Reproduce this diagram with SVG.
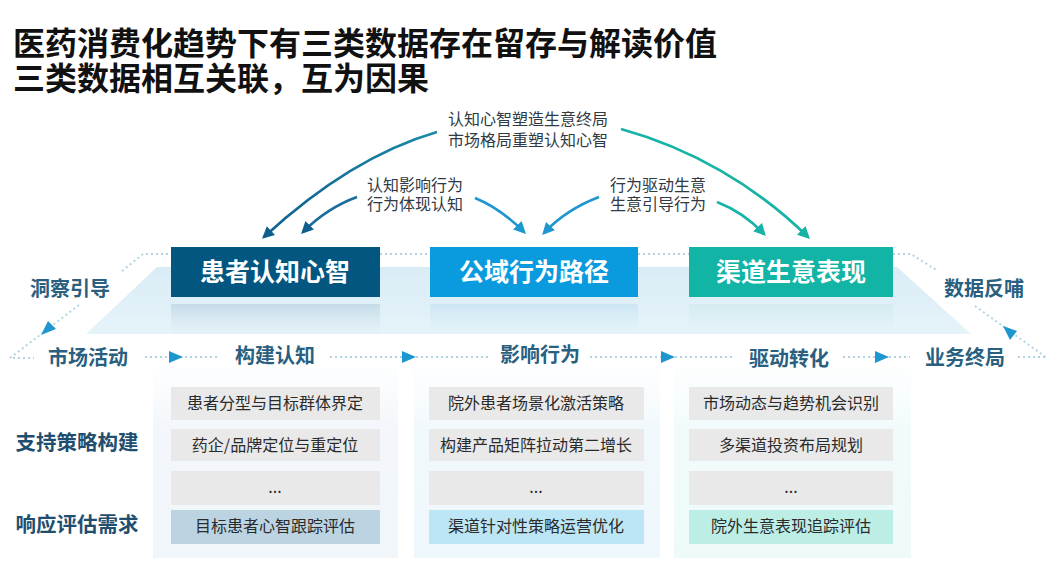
<svg xmlns="http://www.w3.org/2000/svg" width="1051" height="586" viewBox="0 0 1051 586">
<style>
text{font-family:"Noto Sans CJK SC","Liberation Sans",sans-serif;text-anchor:middle}
.title{font-size:32px;font-weight:700;fill:#111;text-anchor:start}
.note{font-size:16px;fill:#2f3a45}
.box{font-size:25px;font-weight:700;fill:#fff}
.step{font-size:20px;font-weight:700;fill:#2a5f80}
.side{font-size:20.5px;font-weight:700;fill:#1f4e6e}
.row{font-size:16px;fill:#2b2b2b}
.g{fill:#e9e9e9}
.dot{fill:none;stroke:#b3d3e2;stroke-width:2;stroke-dasharray:2 3}
.tri{fill:#1e96cf}
</style>
<defs>
<linearGradient id="plat" x1="0" y1="0" x2="0" y2="1"><stop offset="0" stop-color="#d9ecf6"/><stop offset="1" stop-color="#e6f3f9"/></linearGradient>
<linearGradient id="p1" x1="0" y1="0" x2="0" y2="1"><stop offset="0" stop-color="#f8fbfd" stop-opacity=".3"/><stop offset=".3" stop-color="#f3f7fb"/><stop offset="1" stop-color="#f1f6fb"/></linearGradient>
<linearGradient id="p2" x1="0" y1="0" x2="0" y2="1"><stop offset="0" stop-color="#f8fcfe" stop-opacity=".3"/><stop offset=".3" stop-color="#f2f9fd"/><stop offset="1" stop-color="#eef7fc"/></linearGradient>
<linearGradient id="p3" x1="0" y1="0" x2="0" y2="1"><stop offset="0" stop-color="#f8fdfd" stop-opacity=".3"/><stop offset=".3" stop-color="#f2fbfb"/><stop offset="1" stop-color="#eefafa"/></linearGradient>
<linearGradient id="r1" x1="0" y1="0" x2="0" y2="1"><stop offset="0" stop-color="#b9d2e0" stop-opacity=".7"/><stop offset="1" stop-color="#d8e9f2" stop-opacity=".1"/></linearGradient>
<linearGradient id="r2" x1="0" y1="0" x2="0" y2="1"><stop offset="0" stop-color="#bfe0f1" stop-opacity=".6"/><stop offset="1" stop-color="#d9eef8" stop-opacity=".1"/></linearGradient>
<linearGradient id="r3" x1="0" y1="0" x2="0" y2="1"><stop offset="0" stop-color="#cbe8e9" stop-opacity=".6"/><stop offset="1" stop-color="#def1f3" stop-opacity=".1"/></linearGradient>
<linearGradient id="la" gradientUnits="userSpaceOnUse" x1="437" y1="132" x2="264" y2="236"><stop offset="0" stop-color="#1b8aa8"/><stop offset="1" stop-color="#0f5f8e"/></linearGradient>
<marker id="m1" markerWidth="5" markerHeight="5" refX="3.5" refY="2.25" orient="auto" markerUnits="strokeWidth"><path d="M0 0L4.5 2.25L0 4.5z" fill="#0f5f8e"/></marker>
<marker id="m2" markerWidth="5" markerHeight="5" refX="3.5" refY="2.25" orient="auto" markerUnits="strokeWidth"><path d="M0 0L4.5 2.25L0 4.5z" fill="#1e96cf"/></marker>
<marker id="m3" markerWidth="5" markerHeight="5" refX="3.5" refY="2.25" orient="auto" markerUnits="strokeWidth"><path d="M0 0L4.5 2.25L0 4.5z" fill="#17b3a6"/></marker>
</defs>
<rect width="1051" height="586" fill="#fff"/>
<text class="title"><tspan x="13" y="55">医药消费化趋势下有三类数据存在留存与解读价值</tspan><tspan x="13" y="90">三类数据相互关联，互为因果</tspan></text>

<g id="platform">
<polygon points="157,267 897,267 971,334 86,334" fill="url(#plat)"/>
<rect x="171" y="304" width="209" height="30" fill="url(#r1)"/>
<rect x="430" y="304" width="208" height="30" fill="url(#r2)"/>
<rect x="689" y="304" width="204" height="30" fill="url(#r3)"/>
</g>

<g id="connectors" fill="none" stroke-width="2.7">
<path d="M437 132C375 150 315 190 264 237" stroke="url(#la)" marker-end="url(#m1)"/>
<path d="M357 197C335 205 318 217 303 232" stroke="#1a6d9c" marker-end="url(#m1)"/>
<path d="M475 198C495 206 510 218 524 232" stroke="#1e96cf" marker-end="url(#m2)"/>
<path d="M599 197C578 205 558 218 544 233" stroke="#1e96cf" marker-end="url(#m2)"/>
<path d="M717 202C735 209 750 219 764 234" stroke="#17b3a6" marker-end="url(#m3)"/>
<path d="M621 129C690 148 755 185 808 237" stroke="#17b3a6" marker-end="url(#m3)"/>
<path class="dot" d="M122 271L143 254L171 254M380 254L430 254M638 254L689 254M893 254L911 254L938 271"/>
<path class="dot" d="M975 306L1047 358M79 305L10 358L34 358M145 357L219 357M330 357L402 357M416 357L489 357M590 357L661 357M675 357L733 357M843 357L875 357M889 357L910 357M1018 357L1047 357"/>
<polygon class="tri" points="48,321 56,329 41,335"/>
<polygon class="tri" points="1003,326 1017,331 1010,340"/>
<polygon class="tri" points="169,351 183,357 169,363"/>
<polygon class="tri" points="402,351 416,357 402,363"/>
<polygon class="tri" points="661,351 675,357 661,363"/>
<polygon class="tri" points="875,351 889,357 875,363"/>
</g>

<text class="note"><tspan x="528" y="125">认知心智塑造生意终局</tspan><tspan x="528" y="146">市场格局重塑认知心智</tspan></text>
<text class="note"><tspan x="415" y="191">认知影响行为</tspan><tspan x="415" y="210">行为体现认知</tspan></text>
<text class="note"><tspan x="658" y="191">行为驱动生意</tspan><tspan x="658" y="210">生意引导行为</tspan></text>

<g id="node-cognition"><rect x="171" y="247" width="209" height="50" fill="#02567f"/><text class="box" x="275" y="281">患者认知心智</text></g>
<g id="node-behavior"><rect x="430" y="247" width="208" height="50" fill="#0a9ade"/><text class="box" x="534" y="281">公域行为路径</text></g>
<g id="node-business"><rect x="689" y="247" width="204" height="50" fill="#12b5a5"/><text class="box" x="791" y="281">渠道生意表现</text></g>

<text class="step" x="70" y="296">洞察引导</text>
<text class="step" x="984" y="296">数据反哺</text>
<text class="step" x="88" y="365">市场活动</text>
<text class="step" x="275" y="363">构建认知</text>
<text class="step" x="540" y="362">影响行为</text>
<text class="step" x="789" y="366">驱动转化</text>
<text class="step" x="965" y="365">业务终局</text>
<text class="side" x="77" y="450">支持策略构建</text>
<text class="side" x="77" y="532">响应评估需求</text>

<g id="col-1">
<rect x="153" y="368" width="245" height="190" fill="url(#p1)"/>
<rect class="g" x="171" y="387" width="209" height="33"/><text class="row" x="275" y="409">患者分型与目标群体界定</text>
<rect class="g" x="171" y="429" width="209" height="32"/><text class="row" x="275" y="451">药企/品牌定位与重定位</text>
<rect class="g" x="171" y="471" width="209" height="34"/><text class="row" x="275" y="493">...</text>
<rect x="171" y="510" width="209" height="34" fill="#bcd4e2"/><text class="row" x="275" y="532">目标患者心智跟踪评估</text>
</g>
<g id="col-2">
<rect x="414" y="368" width="246" height="190" fill="url(#p2)"/>
<rect class="g" x="429" y="387" width="215" height="33"/><text class="row" x="536" y="409">院外患者场景化激活策略</text>
<rect class="g" x="429" y="429" width="215" height="32"/><text class="row" x="536" y="451">构建产品矩阵拉动第二增长</text>
<rect class="g" x="429" y="471" width="215" height="34"/><text class="row" x="536" y="493">...</text>
<rect x="429" y="510" width="215" height="34" fill="#bce6f5"/><text class="row" x="536" y="532">渠道针对性策略运营优化</text>
</g>
<g id="col-3">
<rect x="674" y="368" width="237" height="190" fill="url(#p3)"/>
<rect class="g" x="689" y="387" width="204" height="33"/><text class="row" x="791" y="409">市场动态与趋势机会识别</text>
<rect class="g" x="689" y="429" width="204" height="32"/><text class="row" x="791" y="451">多渠道投资布局规划</text>
<rect class="g" x="689" y="471" width="204" height="34"/><text class="row" x="791" y="493">...</text>
<rect x="689" y="510" width="204" height="34" fill="#bdeee6"/><text class="row" x="791" y="532">院外生意表现追踪评估</text>
</g>
</svg>
